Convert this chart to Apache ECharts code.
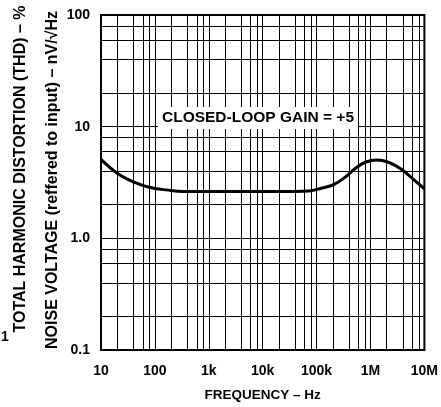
<!DOCTYPE html>
<html>
<head>
<meta charset="utf-8">
<script src="https://cdn.jsdelivr.net/npm/echarts@6/dist/echarts.min.js"></script>
<style>html,body{margin:0;padding:0;background:#fff}#c{width:441px;height:407px}</style>
</head>
<body>
<div id="c"></div>
<script>
// Data
const freqHz = [10, 20, 40, 78, 200, 330, 1000, 10000, 20000, 72000, 126000, 207000, 340000, 520000, 800000, 1300000, 2150000, 3800000, 5800000, 10000000];
const noiseVoltage = [5.1, 3.83, 3.2, 2.87, 2.68, 2.63, 2.62, 2.62, 2.62, 2.66, 2.82, 3.02, 3.53, 4.22, 4.8, 5.04, 4.8, 4.14, 3.48, 2.78];
const xTickLabels = {10: '10', 100: '100', 1000: '1k', 10000: '10k', 100000: '100k', 1000000: '1M', 10000000: '10M'};
const yTickLabels = {0.1: '0.1', 1: '1.0', 10: '10', 100: '100'};
const xMinorGrid = [20, 40, 60, 80, 200, 400, 600, 800, 2000, 4000, 6000, 8000, 20000, 40000, 60000, 80000, 200000, 400000, 600000, 800000, 2000000, 4000000, 6000000, 8000000];
const yMinorGrid = [0.2, 0.4, 0.6, 0.8, 2, 4, 6, 8, 20, 40, 60, 80];
const annotation = 'CLOSED-LOOP GAIN = +5';
const xTitle = 'FREQUENCY – Hz';
const yTitle1 = 'TOTAL HARMONIC DISTORTION (THD) – %';
const yTitle2 = 'NOISE VOLTAGE (reffered to input) – nV/√Hz';

const FONT = '"Liberation Sans", Arial, sans-serif';
const chart = echarts.init(document.getElementById('c'), null, {renderer: 'canvas'});

function fmt(map, v) {
  for (const k in map) { if (Math.abs(Math.log10(+k) - Math.log10(v)) < 1e-6) return map[k]; }
  return '';
}

chart.setOption({
  animation: false,
  backgroundColor: '#fff',
  grid: {left: 101, right: 15, top: 15, bottom: 57, show: true, borderColor: '#000', borderWidth: 2, backgroundColor: 'transparent'},
  xAxis: {
    type: 'log', logBase: 10, min: 10, max: 1e7, splitNumber: 6,
    axisLine: {show: true, lineStyle: {color: '#000', width: 2}},
    axisTick: {show: false},
    axisLabel: {color: '#000', fontFamily: FONT, fontWeight: 'bold', fontSize: 14, margin: 14,
      formatter: v => fmt(xTickLabels, v)},
    splitLine: {show: true, lineStyle: {color: '#000', width: 1}},
    name: xTitle, nameLocation: 'middle', nameGap: 38,
    nameTextStyle: {color: '#000', fontFamily: FONT, fontWeight: 'bold', fontSize: 13.5}
  },
  yAxis: {
    type: 'log', logBase: 10, min: 0.1, max: 100, splitNumber: 3,
    axisLine: {show: true, lineStyle: {color: '#000', width: 2}},
    axisTick: {show: false},
    axisLabel: {color: '#000', fontFamily: FONT, fontWeight: 'bold', fontSize: 14, margin: 11,
      formatter: v => fmt(yTickLabels, v)},
    splitLine: {show: true, lineStyle: {color: '#000', width: 1}}
  },
  series: [{
    type: 'line',
    data: freqHz.map((f, i) => [f, noiseVoltage[i]]),
    smooth: 0.4,
    symbol: 'none',
    lineStyle: {color: '#000', width: 3},
    z: 5,
    markLine: {
      silent: true, symbol: 'none', label: {show: false},
      lineStyle: {color: '#000', width: 1, type: 'solid'},
      emphasis: {disabled: true},
      data: xMinorGrid.map(v => ({xAxis: v})).concat(yMinorGrid.map(v => ({yAxis: v})))
    }
  }],
  graphic: [
    {type: 'text', x: 258, y: 118, z: 100,
      style: {text: annotation, fill: '#000', font: 'bold 15.5px ' + FONT, textAlign: 'center', textVerticalAlign: 'middle',
        backgroundColor: '#fff', padding: [3, 4, 3, 4]}},
    {type: 'text', x: 21, y: 169, rotation: Math.PI / 2, z: 100,
      style: {text: yTitle1, fill: '#000', font: 'bold 16px ' + FONT, textAlign: 'center', textVerticalAlign: 'middle'}},
    {type: 'text', x: 53, y: 180, rotation: Math.PI / 2, z: 100,
      style: {text: yTitle2, fill: '#000', font: 'bold 16px ' + FONT, textAlign: 'center', textVerticalAlign: 'middle'}},
    {type: 'text', x: 5, y: 337, z: 100,
      style: {text: '1', fill: '#000', font: 'bold 14px ' + FONT, textAlign: 'center', textVerticalAlign: 'middle'}}
  ]
});
</script>
</body>
</html>
